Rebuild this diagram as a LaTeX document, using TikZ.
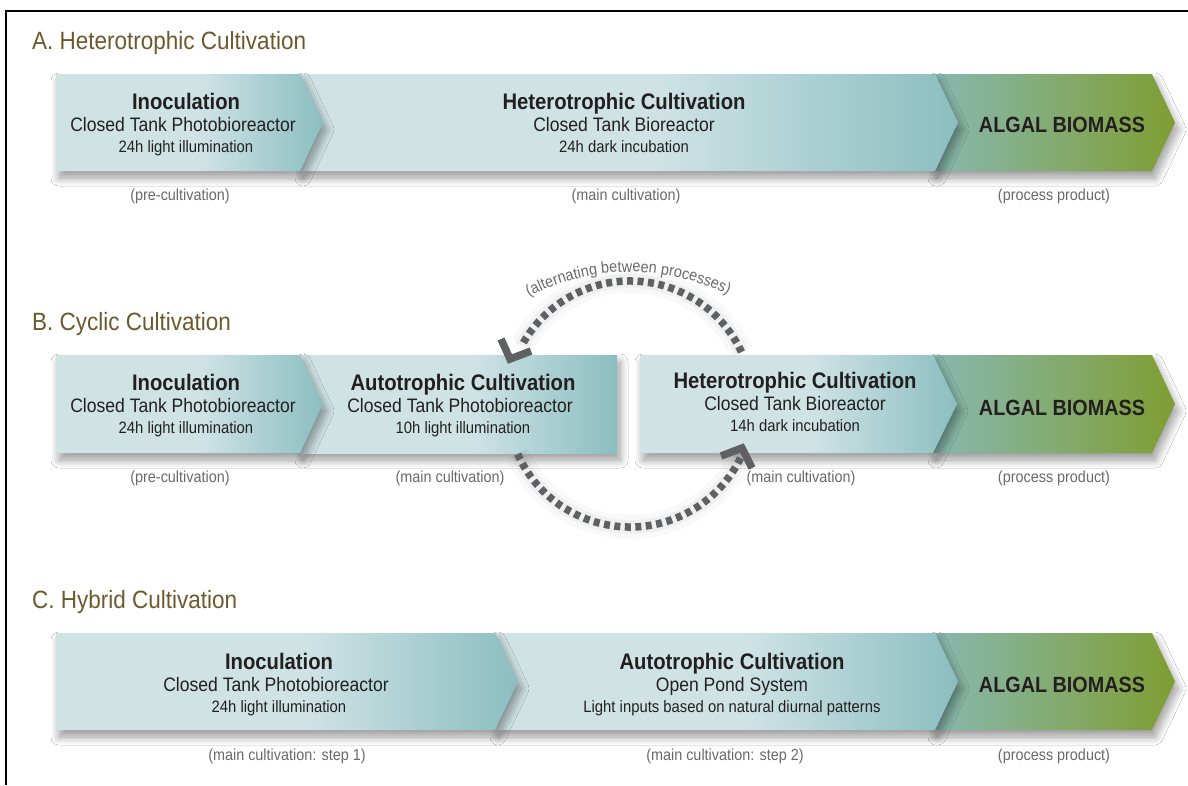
\documentclass[tikz,border=0pt]{standalone}
\usepackage{fontspec}
\setmainfont{Liberation Sans}[FakeStretch=0.9]
\usetikzlibrary{shadows.blur,decorations.text}
\definecolor{barlight}{RGB}{207,227,229}
\definecolor{bardark}{RGB}{139,190,192}
\definecolor{algL}{RGB}{136,184,176}
\definecolor{algR}{RGB}{126,158,50}
\definecolor{ink}{RGB}{35,31,32}
\definecolor{lblgray}{RGB}{105,106,108}
\definecolor{hdrbrown}{RGB}{108,90,45}
\definecolor{arcgray}{RGB}{95,96,98}
\pgfdeclarehorizontalshading{tealbar}{100bp}{color(0bp)=(barlight); color(25bp)=(barlight); color(52bp)=(barlight); color(75bp)=(bardark); color(100bp)=(bardark)}
\pgfdeclarehorizontalshading{algbar}{100bp}{color(0bp)=(algL); color(25bp)=(algL); color(75bp)=(algR); color(100bp)=(algR)}
\tikzset{
  barshadow/.style={blur shadow={shadow xshift=3pt, shadow yshift=-7pt, shadow blur radius=8pt, shadow blur steps=14, shadow opacity=40}},
  tealshape/.style={barshadow, shade, shading=tealbar},
  algshape/.style={barshadow, shade, shading=algbar},
  ttl/.style={font=\fontsize{22.5}{26}\selectfont\bfseries, text=ink, anchor=base, inner sep=0pt},
  sbt/.style={font=\fontsize{19.5}{23}\selectfont, text=ink, anchor=base, inner sep=0pt},
  thr/.style={font=\fontsize{16.5}{20}\selectfont, text=ink, anchor=base, inner sep=0pt},
  lbl/.style={font=\fontsize{16}{19}\selectfont, text=lblgray, anchor=base, inner sep=0pt},
  hdr/.style={font=\fontsize{25}{30}\selectfont, text=hdrbrown, anchor=base west, inner sep=0pt},
  alg/.style={font=\fontsize{22}{26}\selectfont\bfseries, text=ink, anchor=base, inner sep=0pt},
  dasharc/.style={draw=arcgray, line width=7.5pt, dash pattern=on 6pt off 4.5pt},
  arcshadow/.style={draw=black, line width=24pt, opacity=0.025},
  arcshadowb/.style={draw=black, line width=14pt, opacity=0.035},
  archead/.style={draw=arcgray, line width=7.5pt, line join=miter, line cap=butt},
}
\begin{document}
\begin{tikzpicture}[x=1pt,y=-1pt]
\useasboundingbox (0,0) rectangle (1188,785);
\fill[white] (0,0) rectangle (1188,785);
% frame
\draw[black, line width=1.6pt] (6,785) -- (6,11) -- (1188,11);

% ================= Row A =================
\node[hdr] (hA) at (32,49) {A. Heterotrophic Cultivation};
\path[algshape] (933,74) -- (1152,74) -- (1175,122.5) -- (1152,171) -- (933,171) -- cycle;
\path[tealshape] (300,74) -- (935,74) -- (958,122.5) -- (935,171) -- (300,171) -- cycle;
\path[tealshape] (56,74) -- (300,74) -- (323,122.5) -- (300,171) -- (56,171) -- cycle;
\node[ttl] (aInoT) at (186,109) {Inoculation};
\node[sbt] (aInoS) at (183,131) {Closed Tank Photobioreactor};
\node[thr] (aInoL) at (186,152) {24h light illumination};
\node[lbl] (aInoB) at (180,200) {(pre-cultivation)};
\node[ttl] (aHetT) at (624,109) {Heterotrophic Cultivation};
\node[sbt] (aHetS) at (624,131) {Closed Tank Bioreactor};
\node[thr] (aHetL) at (624,152) {24h dark incubation};
\node[lbl] (aHetB) at (626,200) {(main cultivation)};
\node[alg] (aAlg) at (1062,132) {ALGAL BIOMASS};
\node[lbl] (aAlgB) at (1054,200) {(process product)};

% ================= Row B =================
\node[hdr] (hB) at (32,330) {B. Cyclic Cultivation};
\path[algshape] (933,355) -- (1152,355) -- (1175,404) -- (1152,453) -- (933,453) -- cycle;
\path[tealshape] (640,355) -- (933,355) -- (957,404) -- (933,453) -- (640,453) -- cycle;
\path[tealshape] (300,355) -- (617,355) -- (617,453) -- (300,453) -- cycle;
\path[tealshape] (56,355) -- (300,355) -- (323,404) -- (300,453) -- (56,453) -- cycle;
\node[ttl] (bInoT) at (186,390) {Inoculation};
\node[sbt] (bInoS) at (183,412) {Closed Tank Photobioreactor};
\node[thr] (bInoL) at (186,433) {24h light illumination};
\node[lbl] (bInoB) at (180,482) {(pre-cultivation)};
\node[ttl] (bAutT) at (463,390) {Autotrophic Cultivation};
\node[sbt] (bAutS) at (460,412) {Closed Tank Photobioreactor};
\node[thr] (bAutL) at (463,433) {10h light illumination};
\node[lbl] (bAutB) at (450,482) {(main cultivation)};
\node[ttl] (bHetT) at (795,388) {Heterotrophic Cultivation};
\node[sbt] (bHetS) at (795,410) {Closed Tank Bioreactor};
\node[thr] (bHetL) at (795,431) {14h dark incubation};
\node[lbl] (bHetB) at (801,482) {(main cultivation)};
\node[alg] (bAlg) at (1062,415) {ALGAL BIOMASS};
\node[lbl] (bAlgB) at (1054,482) {(process product)};

% cycle arrows
\coordinate (cc) at (630,404);
\coordinate (tc) at (630,491);
\coordinate (topHead) at (510,359);
\coordinate (botHead) at (742,448);
\begin{scope}[shift={(4,7)}]
\draw[arcshadow] (cc) ++(-25:123) arc[start angle=-25, end angle=-152, radius=123];
\draw[arcshadow] (cc) ++(-204:123) arc[start angle=-204, end angle=-336, radius=123];
\draw[arcshadowb] (cc) ++(-25:123) arc[start angle=-25, end angle=-152, radius=123];
\draw[arcshadowb] (cc) ++(-204:123) arc[start angle=-204, end angle=-336, radius=123];
\end{scope}
\draw[dasharc] (cc) ++(-25:123) arc[start angle=-25, end angle=-152, radius=123];
\draw[archead] (501,339) -- (topHead) -- (531,351);
\draw[dasharc] (cc) ++(-204:123) arc[start angle=-204, end angle=-336, radius=123];
\draw[archead] (721,456) -- (botHead) -- (752,468);
\path[decorate, decoration={text along path, text color=lblgray,
  text={|\fontsize{16}{19}\selectfont|(alternating between processes)}, text align=fit to path}]
  (tc) ++(-117.5:219) arc[start angle=-117.5, end angle=-63.5, radius=219];

% ================= Row C =================
\node[hdr] (hC) at (32,608) {C. Hybrid Cultivation};
\path[algshape] (933,633) -- (1152,633) -- (1175,681.5) -- (1152,730) -- (933,730) -- cycle;
\path[tealshape] (495,633) -- (935,633) -- (958,681.5) -- (935,730) -- (495,730) -- cycle;
\path[tealshape] (56,633) -- (495,633) -- (518,681.5) -- (495,730) -- (56,730) -- cycle;
\node[ttl] (cInoT) at (279,669) {Inoculation};
\node[sbt] (cInoS) at (276,691) {Closed Tank Photobioreactor};
\node[thr] (cInoL) at (279,712) {24h light illumination};
\node[lbl] (cInoB) at (287,760) {(main cultivation: step 1)};
\node[ttl] (cAutT) at (732,669) {Autotrophic Cultivation};
\node[sbt] (cAutS) at (732,691) {Open Pond System};
\node[thr] (cAutL) at (732,712) {Light inputs based on natural diurnal patterns};
\node[lbl] (cAutB) at (725,760) {(main cultivation: step 2)};
\node[alg] (cAlg) at (1062,692) {ALGAL BIOMASS};
\node[lbl] (cAlgB) at (1054,760) {(process product)};
\end{tikzpicture}
\end{document}
